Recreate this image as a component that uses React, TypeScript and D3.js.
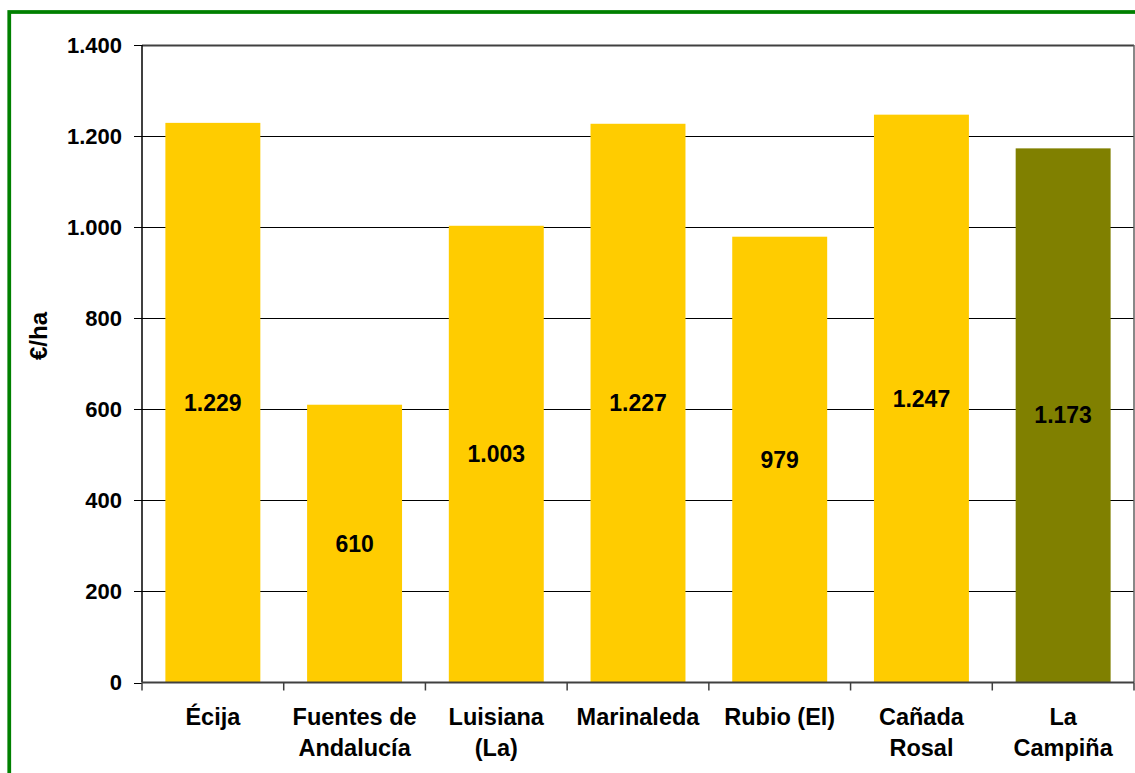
import React from "react";
import * as d3 from "d3";

const categories: string[][] = [
  ["Écija"],
  ["Fuentes de", "Andalucía"],
  ["Luisiana", "(La)"],
  ["Marinaleda"],
  ["Rubio (El)"],
  ["Cañada", "Rosal"],
  ["La", "Campiña"],
];
const values: number[] = [1229, 610, 1003, 1227, 979, 1247, 1173];
const valueLabels: string[] = ["1.229", "610", "1.003", "1.227", "979", "1.247", "1.173"];
const barColors: string[] = ["#FFCC00", "#FFCC00", "#FFCC00", "#FFCC00", "#FFCC00", "#FFCC00", "#808000"];
const yTicks: number[] = [0, 200, 400, 600, 800, 1000, 1200, 1400];
const yTickLabels: string[] = ["0", "200", "400", "600", "800", "1.000", "1.200", "1.400"];
const yTitle = "€/ha";

const W = 1135;
const H = 773;
const left = 142;
const right = 1134;
const top = 45;
const bottom = 682.5;
const font = "Arial, 'Liberation Sans', sans-serif";

export default function App() {
  const x = d3
    .scaleBand<number>()
    .domain(d3.range(categories.length))
    .range([left, right])
    .paddingInner(0.33)
    .paddingOuter(0.165);
  const xb = d3.scaleBand<number>().domain(d3.range(categories.length)).range([left, right]);
  const y = d3.scaleLinear().domain([0, 1400]).range([bottom, top]);

  return (
    <svg
      width={W}
      height={H}
      style={{ position: "absolute", left: 0, top: 0, background: "#fff" }}
      fontFamily={font}
    >
      <rect x={0} y={0} width={W} height={H} fill="#fff" />
      {/* green frame */}
      <rect x={9.25} y={12} width={W + 20} height={H + 20} fill="none" stroke="#008000" strokeWidth={3.75} />

      {/* gridlines */}
      {yTicks.slice(1).map((t) => (
        <line
          key={"g" + t}
          x1={left}
          x2={right}
          y1={Math.round(y(t)) + 0.5}
          y2={Math.round(y(t)) + 0.5}
          stroke={t === 1400 ? "#404040" : "#000"}
          strokeWidth={t === 1400 ? 2 : 1}
        />
      ))}
      {/* right plot border */}
      <line x1={right} x2={right} y1={top} y2={bottom} stroke="#606060" strokeWidth={1.5} />

      {/* bars */}
      {values.map((v, i) => (
        <rect key={"b" + i} x={x(i)} y={y(v)} width={x.bandwidth()} height={y(0) - y(v)} fill={barColors[i]} />
      ))}

      {/* value labels */}
      {values.map((v, i) => (
        <text
          key={"v" + i}
          x={(x(i) as number) + x.bandwidth() / 2}
          y={y(v / 2)}
          textAnchor="middle"
          dominantBaseline="central"
          fontSize={23}
          fontWeight="bold"
          fill="#000"
        >
          {valueLabels[i]}
        </text>
      ))}

      {/* y axis */}
      <line x1={left} x2={left} y1={top} y2={bottom} stroke="#000" strokeWidth={1.5} />
      {yTicks.map((t, i) => (
        <g key={"t" + t}>
          <line x1={134} x2={left} y1={Math.round(y(t)) + 0.5} y2={Math.round(y(t)) + 0.5} stroke="#000" />
          <text
            x={122}
            y={y(t)}
            textAnchor="end"
            dominantBaseline="central"
            fontSize={22}
            fontWeight="bold"
            fill="#000"
          >
            {yTickLabels[i]}
          </text>
        </g>
      ))}

      {/* x axis */}
      <line x1={left} x2={right} y1={bottom} y2={bottom} stroke="#404040" strokeWidth={2} />
      {d3.range(categories.length + 1).map((i) => {
        const xx = i < categories.length ? (xb(i) as number) : right;
        return <line key={"xt" + i} x1={xx} x2={xx} y1={bottom} y2={bottom + 8} stroke="#404040" strokeWidth={1.5} />;
      })}
      {categories.map((lines, i) => (
        <text
          key={"c" + i}
          x={(xb(i) as number) + xb.bandwidth() / 2}
          y={725}
          textAnchor="middle"
          fontSize={23.5}
          fontWeight="bold"
          fill="#000"
        >
          {lines.map((l, j) => (
            <tspan key={j} x={(xb(i) as number) + xb.bandwidth() / 2} dy={j === 0 ? 0 : 31}>
              {l}
            </tspan>
          ))}
        </text>
      ))}

      {/* y title */}
      <text
        transform={`translate(47,336) rotate(-90)`}
        textAnchor="middle"
        fontSize={24}
        fontWeight="bold"
        fill="#000"
      >
        {yTitle}
      </text>
    </svg>
  );
}
